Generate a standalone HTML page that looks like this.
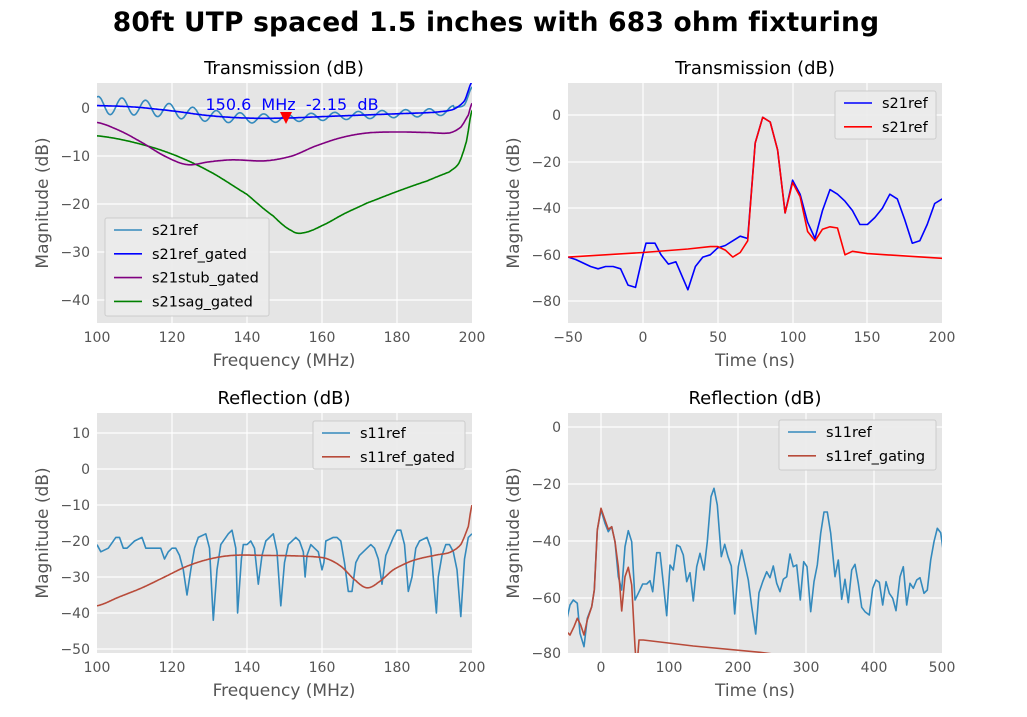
<!DOCTYPE html>
<html><head><meta charset="utf-8"><style>
body{margin:0;background:#fff;}
svg{display:block;font-family:"DejaVu Sans","Liberation Sans",sans-serif;}
.tk{font-size:14px;fill:#555;}
.lb{font-size:17px;fill:#555;}
.tt{font-size:18px;fill:#000;}
.lg{font-size:14.5px;fill:#000;}
</style></head><body>
<svg id="s" width="1027" height="717" viewBox="0 0 1027 717">
<text x="496" y="31" text-anchor="middle" style="font-size:26.5px;font-weight:bold;letter-spacing:0.2px">80ft UTP spaced 1.5 inches with 683 ohm fixturing</text>
<defs>
<clipPath id="c1"><rect x="97" y="83" width="375" height="240"/></clipPath>
<clipPath id="c2"><rect x="568" y="83" width="374" height="240"/></clipPath>
<clipPath id="c3"><rect x="97" y="413" width="375" height="240"/></clipPath>
<clipPath id="c4"><rect x="568" y="413" width="374" height="240"/></clipPath>
</defs>
<g id="g"></g>
<text class="tt" x="284" y="74" text-anchor="middle">Transmission (dB)</text>
<text class="tt" x="755" y="74" text-anchor="middle">Transmission (dB)</text>
<text class="tt" x="284" y="404" text-anchor="middle">Reflection (dB)</text>
<text class="tt" x="755" y="404" text-anchor="middle">Reflection (dB)</text>
<text class="lb" x="284" y="366" text-anchor="middle">Frequency (MHz)</text>
<text class="lb" x="755" y="366" text-anchor="middle">Time (ns)</text>
<text class="lb" x="284" y="696" text-anchor="middle">Frequency (MHz)</text>
<text class="lb" x="755" y="696" text-anchor="middle">Time (ns)</text>
<text class="lb" transform="translate(48,203) rotate(-90)" text-anchor="middle">Magnitude (dB)</text>
<text class="lb" transform="translate(519,203) rotate(-90)" text-anchor="middle">Magnitude (dB)</text>
<text class="lb" transform="translate(48,533) rotate(-90)" text-anchor="middle">Magnitude (dB)</text>
<text class="lb" transform="translate(519,533) rotate(-90)" text-anchor="middle">Magnitude (dB)</text>
<g class="tk" text-anchor="middle">
<text x="97" y="342">100</text><text x="172" y="342">120</text><text x="247" y="342">140</text><text x="322" y="342">160</text><text x="397" y="342">180</text><text x="472" y="342">200</text>
<text x="568" y="342">−50</text><text x="643" y="342">0</text><text x="718" y="342">50</text><text x="793" y="342">100</text><text x="867" y="342">150</text><text x="942" y="342">200</text>
<text x="97" y="672">100</text><text x="172" y="672">120</text><text x="247" y="672">140</text><text x="322" y="672">160</text><text x="397" y="672">180</text><text x="472" y="672">200</text>
<text x="601" y="672">0</text><text x="669" y="672">100</text><text x="738" y="672">200</text><text x="806" y="672">300</text><text x="874" y="672">400</text><text x="942" y="672">500</text>
</g>
<g class="tk" text-anchor="end">
<text x="90" y="113">0</text><text x="90" y="161">−10</text><text x="90" y="209">−20</text><text x="90" y="257">−30</text><text x="90" y="305">−40</text>
<text x="561" y="120">0</text><text x="561" y="167">−20</text><text x="561" y="213">−40</text><text x="561" y="260">−60</text><text x="561" y="306">−80</text>
<text x="90" y="438">10</text><text x="90" y="474">0</text><text x="90" y="510">−10</text><text x="90" y="546">−20</text><text x="90" y="582">−30</text><text x="90" y="618">−40</text><text x="90" y="654">−50</text>
<text x="561" y="432">0</text><text x="561" y="489">−20</text><text x="561" y="546">−40</text><text x="561" y="603">−60</text><text x="561" y="658">−80</text>
</g>
<text x="292" y="110" text-anchor="middle" xml:space="preserve" style="font-size:16px;fill:#0000ff;white-space:pre">150.6  MHz  -2.15  dB</text>
<polygon points="280,112 292,112 286,124" fill="#ff0000"/>
<g id="leg"></g>
</svg>
<script>
var NS="http://www.w3.org/2000/svg",g=document.getElementById('g');
function el(t,a,p){var e=document.createElementNS(NS,t);for(var k in a)e.setAttribute(k,a[k]);(p||g).appendChild(e);return e;}
var ax=[[97,83,375,240],[568,83,374,240],[97,413,375,240],[568,413,374,240]];
ax.forEach(function(a){el('rect',{x:a[0],y:a[1],width:a[2],height:a[3],fill:'#e5e5e5'});});
function vg(xs,y0,y1){xs.forEach(function(x){el('line',{x1:x,x2:x,y1:y0,y2:y1,stroke:'#fff','stroke-width':1.2});});}
function hg(ys,x0,x1){ys.forEach(function(y){el('line',{x1:x0,x2:x1,y1:y,y2:y,stroke:'#fff','stroke-width':1.2});});}
vg([172,247,322,397],83,323);hg([108,156,204,252,300],97,472);
vg([643,718,793,867],83,323);hg([115,162,208,255,301],568,942);
vg([172,247,322,397],413,653);hg([433,469,505,541,577,613,649],97,472);
vg([601,669,738,806,874],413,653);hg([427,484,541,598],568,942);
function pl(pts,col,w,clip){el('polyline',{points:pts.map(function(p){return p[0].toFixed(1)+','+p[1].toFixed(1)}).join(' '),fill:'none',stroke:col,'stroke-width':w||1.6,'stroke-linejoin':'round','clip-path':'url(#'+clip+')'});}
function smooth(k,x){var i=0;while(i<k.length-2&&x>k[i+1][0])i++;var p0=k[Math.max(i-1,0)],p1=k[i],p2=k[i+1],p3=k[Math.min(i+2,k.length-1)];var t=(x-p1[0])/(p2[0]-p1[0]);var t2=t*t,t3=t2*t;return 0.5*((2*p1[1])+(-p0[1]+p2[1])*t+(2*p0[1]-5*p1[1]+4*p2[1]-p3[1])*t2+(-p0[1]+3*p1[1]-3*p2[1]+p3[1])*t3);}
function X1(f){return 97+(f-100)*3.75;} function Y1(d){return 108-d*4.8;}
var gated=[[100,0.5],[110,0.2],[120,-0.6],[130,-1.6],[140,-2.1],[150,-2.1],[160,-1.8],[170,-1.5],[180,-1.2],[190,-0.9],[195,-0.3],[198,1.5],[200,5.5]];
var stub=[[100,-3],[106,-4.7],[112,-7.2],[118,-10],[124,-11.8],[130,-11.2],[136,-10.8],[145,-11],[152,-10],[158,-8],[165,-6.2],[172,-5.2],[180,-5],[188,-5.1],[194,-5.2],[197,-4],[199,-1.5],[200,1]];
var sag=[[100,-5.8],[110,-7.2],[120,-9.6],[130,-13.2],[140,-18],[147,-22.5],[152,-25.6],[155,-26],[160,-24.5],[166,-22],[172,-19.8],[180,-17.4],[188,-15.2],[194,-13.3],[196.5,-11.5],[198.5,-7],[200,-0.5]];
var a=[],b=[],c=[],d=[];
for(var f=100;f<=200;f+=0.25){var gv=smooth(gated,f);b.push([X1(f),Y1(gv)]);
var amp=(f<150?1.9-0.022*(f-100):0.8)*(f>195?0.3:1);a.push([X1(f),Y1(gv+amp*Math.sin((f-100)/6.3*2*Math.PI+1.2)-(f>196?1.2*(f-196)/4:0))]);
c.push([X1(f),Y1(smooth(stub,f))]);d.push([X1(f),Y1(smooth(sag,f))]);}
pl(d,'#008000',1.6,'c1');pl(c,'#800080',1.6,'c1');pl(a,'#348ABD',1.6,'c1');pl(b,'#0000ff',1.6,'c1');
function X2(t){return 643+t*1.496;} function Y2(v){return 115-v*2.33;}
var bl=[[-50,-61],[-45,-62],[-35,-65],[-30,-66],[-25,-65],[-20,-65],[-15,-66],[-10,-73],[-5,-74],[0,-60],[2,-55],[8,-55],[12,-60],[17,-64],[22,-63],[30,-75],[35,-65],[40,-61],[45,-60],[50,-57],[55,-56],[60,-54],[65,-52],[70,-53],[75,-12],[80,-1],[85,-3],[90,-15],[95,-42],[100,-28],[105,-34],[110,-46],[115,-53],[120,-41],[125,-32],[130,-34],[135,-37],[140,-41],[145,-47],[150,-47],[155,-44],[160,-40],[165,-34],[170,-36],[175,-45],[180,-55],[185,-54],[190,-47],[195,-38],[200,-36]];
var rd=[[-50,-61],[0,-59],[30,-57.5],[45,-56.5],[50,-56.5],[55,-58],[60,-61],[65,-59],[70,-54],[75,-12],[80,-1],[85,-3],[90,-15],[95,-42],[100,-29],[105,-35],[110,-50],[115,-54],[120,-49],[125,-48],[130,-48.5],[135,-60],[140,-58.5],[150,-59.5],[200,-61.5]];
pl(bl.map(function(p){return[X2(p[0]),Y2(p[1])]}),'#0000ff',1.6,'c2');
pl(rd.map(function(p){return[X2(p[0]),Y2(p[1])]}),'#ff0000',1.6,'c2');
function Y3(v){return 469-v*3.6;}
var s11=[[100,-21],[101,-23],[103,-22],[105,-19],[106,-19],[107,-22],[108,-22],[110,-20],[112,-19],[113,-22],[115,-22],[117,-22],[118,-25],[119,-23],[120,-22],[121,-22],[122,-24],[123,-28],[124,-35],[125,-28],[126,-22],[127,-19],[129,-18],[130,-22],[131,-42],[132,-28],[133,-21],[135,-18],[136,-17],[137,-22],[137.5,-40],[138.5,-25],[139,-21],[140,-21],[141,-20],[142,-22],[143,-32],[144,-24],[145,-20],[147,-18],[148,-23],[149,-38],[150,-26],[151,-21],[153,-19],[154,-20],[155,-23],[155.5,-30],[156,-24],[157,-21],[158,-22],[159,-23],[160,-28],[160.5,-26],[161,-20],[163,-19],[164,-19],[165,-20],[166,-26],[167,-34],[168,-34],[169,-26],[170,-24],[172,-22],[173,-21],[174,-22],[175,-25],[176,-32],[176.5,-28],[177,-24],[179,-19],[180,-17],[181,-17],[182,-21],[183,-34],[184,-30],[185,-22],[186,-20],[188,-19],[189,-22],[190,-34],[190.5,-40],[191,-30],[192,-24],[193,-21],[194,-21],[195,-23],[196,-28],[197,-41],[198,-25],[199,-19],[200,-18]];
var s11g=[[100,-38],[106,-35.5],[112,-33],[118,-30],[124,-27],[130,-25],[136,-24],[145,-24],[155,-24.2],[161,-24.8],[165,-27],[169,-31],[172,-33],[175,-31.5],[179,-28],[184,-25.5],[190,-24],[194,-23.2],[197,-21],[199,-16],[200,-10]];
var e=[];for(var f=100;f<=200;f+=0.25)e.push([X1(f),Y3(smooth(s11g,f))]);
pl(s11.map(function(p){return[X1(p[0]),Y3(p[1])]}),'#348ABD',1.6,'c3');pl(e,'#B84B3A',1.6,'c3');
function Z(p){return[560+p[0]/3,410+p[1]/3];}
var br=[[0,690],[20,630],[30,585],[40,570],[52,580],[60,670],[72,710],[82,625],[95,590],[103,540],[112,360],[123,300],[135,340],[145,365],[155,350],[165,395],[175,500],[185,540],[195,410],[205,362],[215,395],[225,570],[235,550],[248,522],[260,522],[270,512],[278,545],[290,428],[300,428],[310,520],[320,617],[330,465],[340,480],[350,405],[360,410],[370,435],[380,515],[390,488],[400,573],[410,470],[420,430],[432,480],[442,395],[453,260],[462,235],[472,285],[484,440],[494,403],[504,440],[514,468],[524,612],[535,470],[545,420],[555,465],[565,510],[575,590],[587,672],[597,548],[608,515],[620,485],[630,503],[640,468],[650,520],[660,545],[670,508],[680,500],[690,432],[700,470],[710,465],[721,570],[731,455],[741,470],[752,605],[762,515],[772,465],[782,370],[792,306],[802,306],[812,370],[825,500],[835,450],[845,568],[855,508],[865,578],[875,480],[885,463],[895,520],[905,592],[915,605],[928,615],[938,535],[948,510],[958,517],[968,585],[978,515],[988,550],[998,565],[1008,602],[1020,500],[1030,470],[1040,585],[1050,520],[1060,535],[1070,510],[1080,503],[1092,550],[1102,540],[1112,450],[1122,395],[1132,355],[1142,368],[1150,425]];
var brr=[[0,660],[20,665],[30,675],[42,650],[52,625],[62,645],[72,675],[82,630],[95,590],[103,540],[112,360],[123,295],[135,330],[145,358],[155,350],[165,395],[175,470],[185,603],[195,500],[205,472],[215,525],[225,710],[230,780],[237,690],[250,690],[400,708],[600,727],[700,740]];
pl(br.map(Z),'#348ABD',1.6,'c4');pl(brr.map(Z),'#B84B3A',1.6,'c4');
function legend(x,y,w,h,items){var L=document.getElementById('leg');el('rect',{x:x,y:y,width:w,height:h,fill:'#ebebeb','fill-opacity':0.9,stroke:'#cccccc','stroke-width':1,rx:2},L);
items.forEach(function(it,i){var yy=y+12+i*23.8;el('line',{x1:x+9,x2:x+37,y1:yy,y2:yy,stroke:it[1],'stroke-width':1.6},L);var t=el('text',{x:x+47,y:yy+5,'class':'lg'},L);t.textContent=it[0];});}
legend(105,218,164,98,[['s21ref','#348ABD'],['s21ref_gated','#0000ff'],['s21stub_gated','#800080'],['s21sag_gated','#008000']]);
legend(835,91,101,48,[['s21ref','#0000ff'],['s21ref','#ff0000']]);
legend(313,421,152,48,[['s11ref','#348ABD'],['s11ref_gated','#B84B3A']]);
legend(779,420,157,50,[['s11ref','#348ABD'],['s11ref_gating','#B84B3A']]);
</script>
</body></html>
